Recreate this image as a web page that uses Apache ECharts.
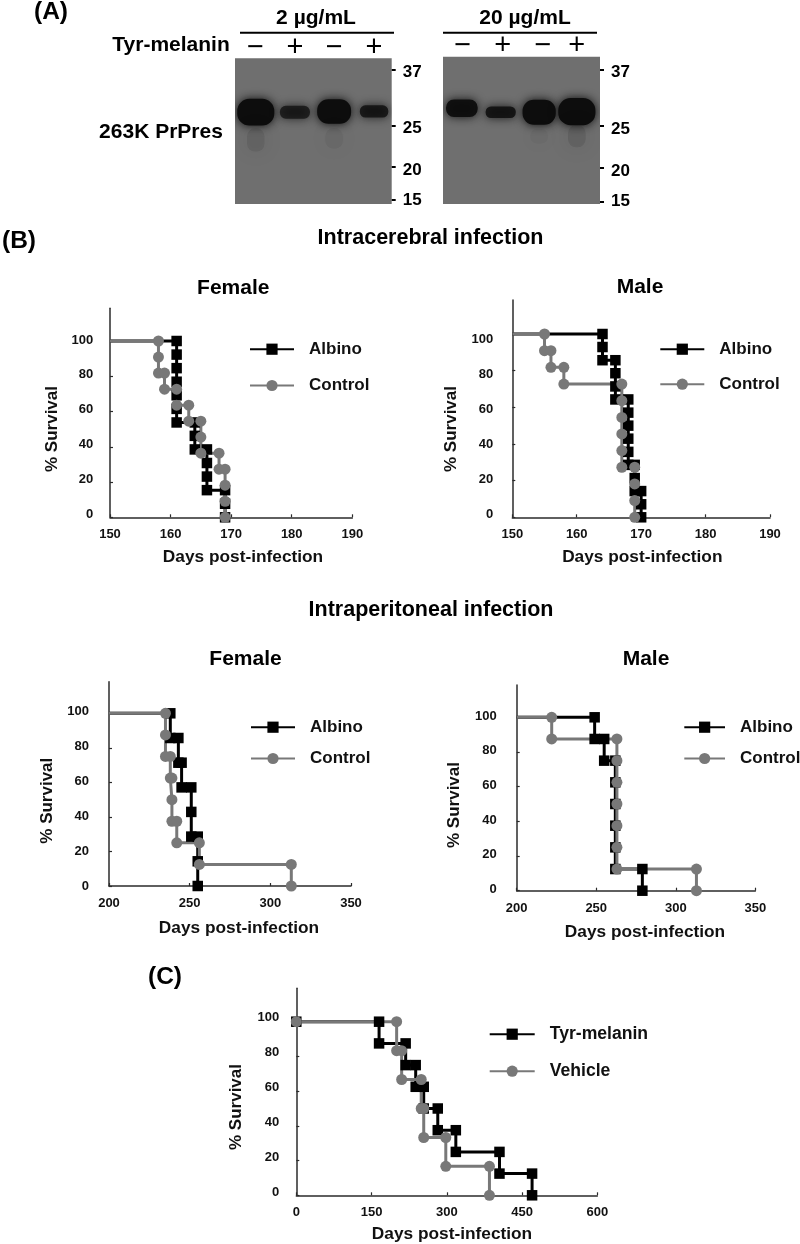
<!DOCTYPE html>
<html><head><meta charset="utf-8">
<style>html,body{margin:0;padding:0;background:#fff}#c{width:800px;height:1244px}</style>
<script src="https://cdn.jsdelivr.net/npm/echarts@6/dist/echarts.min.js"></script>
</head><body><div id="c"></div>
<script>
// ---------- survival data: [days post-infection, % survival] ----------
const icFemaleAlbino=[[150,100],[161,100],[161,92.3],[161,84.6],[161,76.9],[161,69.2],[161,61.5],[161,53.8],[164,53.8],[164,46.2],[164,38.5],[166,38.5],[166,30.8],[166,23.1],[166,15.4],[169,15.4],[169,7.7],[169,0]];
const icFemaleControl=[[150,100],[158,100],[158,90.9],[158,81.8],[159,81.8],[159,72.7],[161,72.7],[161,63.6],[163,63.6],[163,54.5],[165,54.5],[165,45.5],[165,36.4],[168,36.4],[168,27.3],[169,27.3],[169,18.2],[169,9.1],[169,0]];
const icMaleAlbino=[[150,100],[164,100],[164,92.9],[164,85.7],[166,85.7],[166,78.6],[166,71.4],[166,64.3],[168,64.3],[168,57.1],[168,50],[168,42.9],[168,35.7],[168,28.6],[169,28.6],[169,21.4],[169,14.3],[170,14.3],[170,7.1],[170,0]];
const icMaleControl=[[150,100],[155,100],[155,90.9],[156,90.9],[156,81.8],[158,81.8],[158,72.7],[167,72.7],[167,63.6],[167,54.5],[167,45.5],[167,36.4],[167,27.3],[169,27.3],[169,18.2],[169,9.1],[169,0]];
const ipFemaleAlbino=[[200,100],[238,100],[238,85.7],[243,85.7],[243,71.4],[245,71.4],[245,57.1],[251,57.1],[251,42.9],[251,28.6],[255,28.6],[255,14.3],[255,0]];
const ipFemaleControl=[[200,100],[235,100],[235,87.5],[235,75],[238,75],[238,62.5],[239,62.5],[239,50],[239,37.5],[242,37.5],[242,25],[256,25],[256,12.5],[313,12.5],[313,0]];
const ipMaleAlbino=[[200,100],[249,100],[249,87.5],[255,87.5],[255,75],[262,75],[262,62.5],[262,50],[262,37.5],[262,25],[262,12.5],[279,12.5],[279,0]];
const ipMaleControl=[[200,100],[222,100],[222,87.5],[263,87.5],[263,75],[263,62.5],[263,50],[263,37.5],[263,25],[263,12.5],[313,12.5],[313,0]];
const tyrMelanin=[[0,100],[165,100],[165,87.5],[218,87.5],[218,75],[238,75],[238,62.5],[254,62.5],[254,50],[282,50],[282,37.5],[318,37.5],[318,25],[405,25],[405,12.5],[470,12.5],[470,0]];
const vehicle=[[0,100],[200,100],[200,83.3],[210,83.3],[210,66.7],[249,66.7],[249,50],[254,50],[254,33.3],[298,33.3],[298,16.7],[385,16.7],[385,0]];
const survivalTicks=[0,20,40,60,80,100];

// ---------- western blot readings: lane, migration %, width (lanes), height %, density ----------
const blotLaneSigns=['\u2212','+','\u2212','+'];
const massLabels=['37','25','20','15'];
const blot2ug=[[0.53,37,1.1,22.5,1],[1.53,37,0.92,13,0.72],[2.53,36.5,1.02,21,1],[3.55,36.5,0.88,12.5,0.8],[0.53,56,0.6,20,0.09],[2.53,55,0.6,18,0.05]];
const blot20ug=[[0.48,35,0.96,16,0.94],[1.47,37.7,0.92,12,0.85],[2.45,37.7,1,21,1],[3.41,37.3,1.1,22.5,1],[2.45,54,0.6,14,0.04],[3.41,54,0.6,19,0.1]];

// ---------- layout ----------
const FONT='"Liberation Sans"';
const BLACK='#000',GRAY='#787878',AXIS='#2b2b2b';
const panels=[
 {a:icFemaleAlbino,b:icFemaleControl,na:'Albino',nb:'Control',min:150,max:190,iv:10,L:110,R:352.3,T:308.3,B:517.3,v100:341,l0:514.3,l100:340,lm:16.7,nx:243,ny:556.7,sx:51,sy:429,lgx:249,lgw:44,lgf:17,lgy:[347.7,384],mk:false},
 {a:icMaleAlbino,b:icMaleControl,na:'Albino',nb:'Control',min:150,max:190,iv:10,L:512.3,R:770,T:300,B:517.3,v100:334,l0:514.3,l100:339.3,lm:19,nx:642.3,ny:556.7,sx:450,sy:429,lgx:659.3,lgw:44,lgf:17,lgy:[347.7,382.7],mk:false},
 {a:ipFemaleAlbino,b:ipFemaleControl,na:'Albino',nb:'Control',min:200,max:350,iv:50,L:109,R:351,T:681.7,B:886,v100:713.3,l0:886,l100:711.7,lm:20,nx:239,ny:928,sx:46,sy:800.7,lgx:250,lgw:44,lgf:17,lgy:[725.7,757],mk:false},
 {a:ipMaleAlbino,b:ipMaleControl,na:'Albino',nb:'Control',min:200,max:350,iv:50,L:516.7,R:755.3,T:685,B:890.7,v100:717.3,l0:889.3,l100:716,lm:20,nx:645,ny:932,sx:453,sy:805,lgx:683.3,lgw:40.7,lgf:17,lgy:[725.7,757],mk:false},
 {a:tyrMelanin,b:vehicle,na:'Tyr-melanin',nb:'Vehicle',min:0,max:600,iv:150,L:296.3,R:597.3,T:988.3,B:1195.3,v100:1021.7,l0:1192,l100:1017.7,lm:17,nx:452,ny:1234,sx:235,sy:1107,lgx:488.7,lgw:45,lgf:17.6,lgy:[1032.7,1069.7],mk:true}
];
const blots=[
 {data:blot2ug,L:235,R:391.7,T:58.3,B:204,mass:[8,46,74.6,97.2],massText:[9.9,47.8,76.6,97.2],lane:[0.52,1.53,2.53,3.55]},
 {data:blot20ug,L:443,R:600,T:56.7,B:204,mass:[9,46.9,75.4,98.4],massText:[10.4,49,77.5,97.9],lane:[0.5,1.52,2.55,3.41]}
];
const heads=[
 ['(A)',51,12,24.5],['(B)',19,241,24.5],['(C)',165,977,24.5],
 ['2 \u00b5g/mL',316,18,21],['20 \u00b5g/mL',525,18,21],
 ['Tyr-melanin',171,45.7,21],['263K PrPres',161,132,21],
 ['Intracerebral infection',430.5,238,21.5],['Intraperitoneal infection',431,610,21.5],
 ['Female',233.3,288,21],['Male',640,287.5,21],['Female',245.5,659,21],['Male',646,659,21]
];

const grid=[],xAxis=[],yAxis=[],series=[],legend=[];
blots.forEach((b,i)=>{
 grid.push({left:b.L,top:b.T,width:b.R-b.L,height:b.B-b.T,show:true,backgroundColor:'#6f6f6f',borderWidth:0});
 xAxis.push({type:'value',gridIndex:i,min:0,max:4,position:'top',axisLine:{show:false,onZero:false},axisTick:{show:false},splitLine:{show:false},
  axisLabel:{customValues:b.lane,margin:-4,color:'#000',fontFamily:FONT,fontSize:29,lineHeight:29,formatter:(v)=>blotLaneSigns[b.lane.indexOf(v)]}});
 const bandAxis=yAxis.length;
 yAxis.push({type:'value',gridIndex:i,min:0,max:100,inverse:true,position:'right',axisLine:{show:false,onZero:false},splitLine:{show:false},
  axisTick:{show:true,customValues:b.mass,length:4,lineStyle:{color:'#000',width:2}},axisLabel:{show:false}});
 yAxis.push({type:'value',gridIndex:i,min:0,max:100,inverse:true,position:'right',axisLine:{show:false,onZero:false},splitLine:{show:false},axisTick:{show:false},
  axisLabel:{show:true,customValues:b.massText,margin:11,color:'#000',fontFamily:FONT,fontWeight:'bold',fontSize:17,formatter:(v)=>massLabels[b.massText.indexOf(v)]}});
 series.push({type:'custom',xAxisIndex:i,yAxisIndex:bandAxis,clip:true,silent:true,data:b.data,encode:{x:0,y:1},
  renderItem:(p,api)=>{
   const c=api.coord([api.value(0),api.value(1)]);
   const s=api.size([api.value(2),api.value(3)]);
   const w=Math.max(s[0]-6,4),h=Math.max(s[1]-6,4),d=api.value(4);
   return {type:'rect',shape:{x:c[0]-w/2,y:c[1]-h/2,width:w,height:h,r:Math.min(w,h)/2.2},
    style:{fill:'#0d0d0d',opacity:d,shadowBlur:d<0.3?22:10,shadowColor:'#0d0d0d'}};
  }});
});
panels.forEach((p,i)=>{
 const g=2+i;
 grid.push({left:p.L,top:p.T,width:p.R-p.L,height:p.B-p.T});
 const scale=(p.B-p.v100)/100;
 const yMax=(p.B-p.T)/scale;
 const lScale=(p.l0-p.l100)/100;
 xAxis.push({type:'value',gridIndex:g,min:p.min,max:p.max,interval:p.iv,splitLine:{show:false},
  axisLine:{onZero:false,lineStyle:{color:AXIS,width:1.5}},axisTick:{inside:true,length:3,lineStyle:{color:AXIS,width:1.2}},
  axisLabel:{margin:11,color:'#111',fontFamily:FONT,fontWeight:'bold',fontSize:13,showMinLabel:true,showMaxLabel:true},
  name:'Days post-infection',nameLocation:'middle',nameGap:p.ny-p.B-8,
  nameTextStyle:{color:'#111',fontFamily:FONT,fontWeight:'bold',fontSize:17.3,
   padding:(()=>{const d=p.nx-(p.L+p.R)/2;return d>=0?[0,0,0,2*d]:[0,-2*d,0,0];})()}});
 const mainIdx=yAxis.length;
 yAxis.push({type:'value',gridIndex:g,min:0,max:yMax,position:'left',splitLine:{show:false},
  axisLine:{show:true,onZero:false,lineStyle:{color:AXIS,width:1.5}},
  axisTick:{show:true,inside:true,length:3,customValues:survivalTicks,lineStyle:{color:AXIS,width:1.2}},
  axisLabel:{show:false},
  name:'% Survival',nameLocation:'middle',nameGap:p.L-p.sx-10,nameRotate:90,
  nameTextStyle:{color:'#111',fontFamily:FONT,fontWeight:'bold',fontSize:17,
   padding:(()=>{const d=p.sy-(p.T+p.B)/2;return d>=0?[0,2*d,0,0]:[0,0,0,-2*d];})()}});
 yAxis.push({type:'value',gridIndex:g,min:(p.l0-p.B)/lScale,max:(p.l0-p.T)/lScale,position:'left',splitLine:{show:false},
  axisLine:{show:false,onZero:false},axisTick:{show:false},
  axisLabel:{show:true,customValues:survivalTicks,margin:p.lm,color:'#111',fontFamily:FONT,fontWeight:'bold',fontSize:13}});
 const mkSeries=(pts,name,color,sym,size)=>({type:'line',name,xAxisIndex:g,yAxisIndex:mainIdx,clip:false,animation:false,
  symbol:sym,symbolSize:size,showSymbol:true,showAllSymbol:true,
  lineStyle:{color,width:3,join:'miter'},itemStyle:{color,borderWidth:0},
  data:pts.map((v,k)=>(k===0&&!p.mk)?{value:v,symbol:'none'}:{value:v})});
 series.push(mkSeries(p.a,p.na,BLACK,'rect',10.5),mkSeries(p.b,p.nb,GRAY,'circle',11));
 legend.push({orient:'vertical',left:p.lgx,top:p.lgy[0]-10,padding:0,itemWidth:p.lgw,itemHeight:14,itemGap:p.lgy[1]-p.lgy[0]-23,
  data:[p.na,p.nb],selectedMode:false,
  textStyle:{color:'#111',fontFamily:FONT,fontWeight:'bold',fontSize:p.lgf,lineHeight:20,height:20,padding:[3,0,0,10]}});
});
const title=heads.map(h=>({text:h[0],left:h[1],top:h[2],textAlign:'center',textVerticalAlign:'middle',padding:0,
 textStyle:{color:'#000',fontFamily:FONT,fontWeight:'bold',fontSize:h[3]}}));
const graphic=blots.map(b=>({type:'line',shape:{x1:b.L+(b===blots[0]?5:0),y1:32.7,x2:b.R+(b===blots[0]?2.3:-3),y2:32.7},style:{stroke:'#000',lineWidth:2}}));

const chart=echarts.init(document.getElementById('c'),null,{renderer:'canvas'});
chart.setOption({animation:false,backgroundColor:'#fff',title,grid,xAxis,yAxis,legend,series,graphic});
</script></body></html>
